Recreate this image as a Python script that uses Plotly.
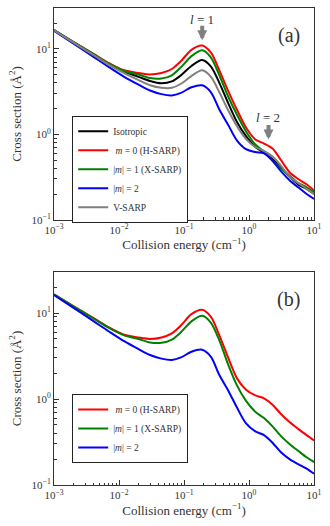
import plotly.graph_objects as go
from plotly.subplots import make_subplots

# Collision energies (cm^-1) shared by every curve
energy = [0.001, 0.002, 0.004, 0.007, 0.012, 0.02, 0.03, 0.045, 0.065, 0.09,
          0.13, 0.19, 0.26, 0.35, 0.48, 0.65, 0.9, 1.25, 1.7, 2.3, 3.1, 4.2,
          5.7, 7.7, 10]

# Panel (a) cross sections (Å^2)
iso = [16.5, 11.9, 8.6, 6.6, 5.4, 4.7, 4.2, 3.95, 4.15, 4.9, 6.3, 7.4, 6.2,
       4.0, 2.3, 1.4, 0.95, 0.71, 0.61, 0.51, 0.41, 0.32, 0.26, 0.23, 0.20]
m0_a = [16.5, 12.0, 8.8, 6.8, 5.6, 5.2, 5.0, 5.2, 5.8, 7.2, 9.7, 10.9, 9.0,
        5.6, 3.2, 1.95, 1.2, 0.87, 0.78, 0.68, 0.50, 0.36, 0.30, 0.26, 0.22]
m1_a = [16.5, 12.0, 8.7, 6.7, 5.5, 5.0, 4.55, 4.5, 4.9, 6.1, 8.2, 9.6, 7.9,
        4.9, 2.75, 1.7, 1.08, 0.76, 0.63, 0.49, 0.40, 0.33, 0.27, 0.24, 0.21]
m2_a = [16.2, 11.5, 8.1, 6.1, 4.7, 3.8, 3.25, 2.95, 2.85, 3.05, 3.55, 3.74,
        3.1, 1.95, 1.28, 0.85, 0.67, 0.62, 0.60, 0.49, 0.37, 0.29, 0.24, 0.20,
        0.175]
vsarp = [16.4, 11.8, 8.5, 6.5, 5.2, 4.3, 3.75, 3.5, 3.5, 3.9, 4.8, 5.6, 4.7,
         3.1, 1.9, 1.25, 0.88, 0.71, 0.64, 0.55, 0.43, 0.32, 0.27, 0.23, 0.20]

# Panel (b) cross sections (Å^2)
m0_b = [16.5, 12.0, 8.8, 6.8, 5.6, 5.2, 5.0, 5.2, 5.8, 7.2, 9.7, 10.9, 9.0,
        5.5, 3.0, 1.75, 1.28, 1.1, 1.02, 0.86, 0.67, 0.54, 0.45, 0.38, 0.33]
m1_b = [16.5, 12.0, 8.7, 6.7, 5.5, 5.0, 4.55, 4.5, 4.9, 6.0, 8.0, 9.3, 7.7,
        4.8, 2.5, 1.45, 0.95, 0.71, 0.60, 0.48, 0.37, 0.30, 0.25, 0.21, 0.185]
m2_b = [16.2, 11.5, 8.1, 6.1, 4.7, 3.8, 3.25, 2.95, 2.85, 3.05, 3.55, 3.74,
        3.1, 1.9, 1.25, 0.80, 0.52, 0.42, 0.38, 0.31, 0.24, 0.20, 0.175, 0.155,
        0.135]

# tick labels
x_ticks = [0.001, 0.01, 0.1, 1, 10]
x_labels = ["10<sup>−3</sup>", "10<sup>−2</sup>", "10<sup>−1</sup>",
            "10<sup>0</sup>", "10<sup>1</sup>"]
y_ticks = [0.1, 1, 10]
y_labels = ["10<sup>−1</sup>", "10<sup>0</sup>", "10<sup>1</sup>"]

names = ["Isotropic", " <i>m</i> = 0 (H-SARP)", "|<i>m</i>| = 1 (X-SARP)",
         "|<i>m</i>| = 2", "V-SARP"]
colors = ["black", "#ff0000", "#008000", "#0000ff", "#808080"]

serif = "Liberation Serif, DejaVu Serif, serif"
ink = "#333"

fig = make_subplots(rows=2, cols=1)

for y, name, c in zip([iso, m0_a, m1_a, m2_a, vsarp], names, colors):
    fig.add_trace(go.Scatter(x=energy, y=y, name=name, mode="lines",
                             line=dict(color=c, width=2, shape="spline",
                                       smoothing=0.8),
                             legend="legend"), row=1, col=1)

for y, name, c in zip([m0_b, m1_b, m2_b], names[1:4], colors[1:4]):
    fig.add_trace(go.Scatter(x=energy, y=y, name=name, mode="lines",
                             line=dict(color=c, width=2, shape="spline",
                                       smoothing=0.8),
                             legend="legend2"), row=2, col=1)

axis_style = dict(showline=True, linecolor=ink, linewidth=1, mirror=True,
                  ticks="inside", ticklen=5, tickcolor=ink, showgrid=False,
                  zeroline=False, automargin=False,
                  minor=dict(ticks="inside", ticklen=2.5, tickcolor=ink,
                             dtick="D1", showgrid=False),
                  tickfont=dict(family=serif, size=11, color=ink))

fig.update_xaxes(type="log", range=[-3, 1], **axis_style,
                 tickvals=x_ticks, ticktext=x_labels,
                 title=dict(text="Collision energy (cm<sup>−1</sup>)",
                            font=dict(family=serif, size=13, color=ink),
                            standoff=3))
fig.update_yaxes(type="log", range=[-1, 1.477], **axis_style,
                 tickvals=y_ticks, ticktext=y_labels,
                 title=dict(text="Cross section (Å<sup>2</sup>)",
                            font=dict(family=serif, size=13, color=ink),
                            standoff=7))

legend_style = dict(xanchor="left", yanchor="top", bgcolor="white",
                    bordercolor="#222", borderwidth=1, itemwidth=30,
                    tracegroupgap=0,
                    font=dict(family=serif, size=9.5, color=ink))

fig.update_layout(
    width=330, height=526,
    margin=dict(l=54, r=16, t=8, b=41),
    paper_bgcolor="white", plot_bgcolor="white",
    yaxis=dict(domain=[0.556, 1]),
    yaxis2=dict(domain=[0, 0.4465]),
    legend=dict(x=0.07, y=0.774, **legend_style),
    legend2=dict(x=0.07, y=0.191, **legend_style),
)

# panel labels and resonance arrows
for ref, label in [("", "(a)"), ("2", "(b)")]:
    fig.add_annotation(x=0.955, y=0.935, xref=f"x{ref} domain",
                       yref=f"y{ref} domain", text=label, showarrow=False,
                       xanchor="right", yanchor="top",
                       font=dict(family=serif, size=20, color=ink))
fig.add_annotation(x=-0.72, y=1.34, xref="x", yref="y", text="<i>l</i> = 1",
                   showarrow=False, font=dict(family=serif, size=13, color=ink))
fig.add_annotation(x=0.29, y=0.2, xref="x", yref="y", text="<i>l</i> = 2",
                   showarrow=False, font=dict(family=serif, size=13, color=ink))
for ax_x, tip in [(-0.72, 1.1), (0.3, -0.06)]:
    fig.add_annotation(x=ax_x, y=tip, xref="x", yref="y", ax=0, ay=-16,
                       text="", showarrow=True, arrowhead=2, arrowwidth=4,
                       arrowsize=0.5, arrowcolor="#808080")

fig.write_html("out.html", config={"displayModeBar": False},
               post_script="document.body.style.margin = '0';")
